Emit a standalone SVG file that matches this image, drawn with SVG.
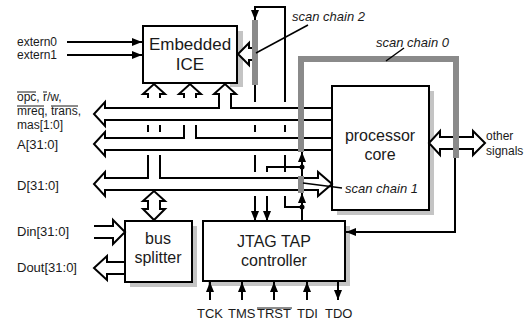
<svg xmlns="http://www.w3.org/2000/svg" width="526" height="325" viewBox="0 0 526 325">
<defs>
<style>
.box{fill:#fff;stroke:#000;stroke-width:2}
.sh{fill:#c4c4c4}
.t{font-family:"Liberation Sans",Arial,sans-serif;fill:#1a1a1a}
.big{font-size:16px;text-anchor:middle}
.sm{font-size:13px}
.xs{font-size:12px}
.it{font-style:italic}
.ln{fill:none;stroke:#000;stroke-width:2}
.bus{fill:none;stroke:#000;stroke-width:2}
.hol{fill:#fff;stroke:#000;stroke-width:2}
.sc{fill:none;stroke:#8a8a8a;stroke-width:6}
.scb{fill:#8a8a8a}
.ovl{stroke:#1a1a1a;stroke-width:1}
.thin{fill:none;stroke:#000;stroke-width:1.5}
</style>
<marker id="ah" viewBox="0 0 10 8" refX="10" refY="4" markerWidth="10" markerHeight="8" markerUnits="userSpaceOnUse" orient="auto">
<path d="M0,0 L10,4 L0,8 z" fill="#000"/>
</marker>
</defs>
<rect width="526" height="325" fill="#fff"/>

<g id="ice">
<rect class="sh" x="237" y="31" width="6" height="56"/>
<rect class="sh" x="230" y="83" width="13" height="4"/>
<rect class="box" x="143" y="26" width="94" height="57"/>
<text class="t big" style="font-size:17px" x="190" y="50">Embedded</text>
<text class="t big" style="font-size:17px" x="190" y="70">ICE</text>
</g>

<g id="core">
<rect class="sh" x="337" y="91" width="97" height="124"/>
<rect class="box" x="332" y="86" width="97" height="124"/>
<text class="t big" x="380" y="141">processor</text>
<text class="t big" x="380" y="160">core</text>
</g>

<g id="jtag">
<rect class="sh" x="208" y="226" width="142" height="60"/>
<rect class="box" x="203" y="221" width="142" height="60"/>
<text class="t big" x="274" y="247">JTAG TAP</text>
<text class="t big" x="274" y="266">controller</text>
</g>

<g id="splitter">
<rect class="sh" x="130" y="226" width="67" height="61"/>
<rect class="box" x="125" y="221" width="67" height="61"/>
<text class="t big" x="158" y="244">bus</text>
<text class="t big" x="158" y="263">splitter</text>
</g>

<g id="labels">
<text class="t xs" x="17" y="46">extern0</text>
<text class="t xs" x="17" y="59">extern1</text>
<text class="t xs" x="17" y="101">opc, r/w,</text>
<line class="ovl" x1="17" y1="92" x2="36" y2="92"/>
<line class="ovl" x1="43" y1="92" x2="47" y2="92"/>
<text class="t xs" x="17" y="115">mreq, trans,</text>
<line class="ovl" x1="17" y1="106" x2="44" y2="106"/>
<line class="ovl" x1="51" y1="106" x2="78" y2="106"/>
<text class="t xs" x="17" y="129">mas[1:0]</text>
<text class="t sm" x="17" y="149">A[31:0]</text>
<text class="t sm" x="17" y="190">D[31:0]</text>
<text class="t sm" x="17" y="236">Din[31:0]</text>
<text class="t sm" x="17" y="272">Dout[31:0]</text>
<text class="t xs" x="486" y="140">other</text>
<text class="t xs" x="486" y="155">signals</text>
<text class="t sm" x="197" y="318">TCK</text>
<text class="t sm" x="228" y="318">TMS</text>
<text class="t sm" x="257" y="318">TRST</text>
<line class="ovl" x1="257" y1="308" x2="292" y2="308"/>
<text class="t sm" x="297" y="318">TDI</text>
<text class="t sm" x="325" y="318">TDO</text>
<text class="t sm it" x="292" y="21">scan chain 2</text>
<text class="t sm it" x="376" y="47">scan chain 0</text>
<text class="t sm it" x="345" y="193">scan chain 1</text>
</g>

<g id="connectors">
<path class="bus" d="M332,120 H105 V126 L94,114 L105,102 V108 H219 V94 H214 L225,84 L236,94 H231 V108 H332"/>
<path class="bus" d="M332,150 H105 V156 L94,144 L105,132 V138 H184 V125 M196,125 V138 H332"/>
<path class="bus" d="M184,98 V94 H179 L190,84 L201,94 H196 V98"/>
<path class="bus" d="M148,155 V178 H105 V172 L94,184 L105,196 V190 H318 V196 L332,184 L318,172 V178 H160 V155"/>
<path class="bus" d="M148,98 V94 H143 L154,84 L165,94 H160 V98 M148,125 V132 M160,125 V132"/>
<path class="hol" d="M148,201 H143 L154,191 L165,201 H160 V209 H165 L154,220 L143,209 H148 Z"/>
<path class="bus" d="M94,226 H113 V220 L125,232 L113,244 V238 H94"/>
<path class="bus" d="M125,262 H107 V256 L94,268 L107,280 V274 H125"/>
<path class="hol" d="M429,143 L440,131 V137 H473 V131 L485,143 L473,155 V149 H440 V155 Z"/>
<path class="hol" d="M253,48 H249 V43 L238,54 L249,65 V60 H253"/>

<path class="sc" d="M301,152 V59 H456 V158"/>
<rect class="scb" x="252" y="20" width="6" height="65"/>
<rect class="scb" x="298" y="176" width="6" height="17"/>

<path class="ln" d="M67,42 H142" marker-end="url(#ah)"/>
<path class="ln" d="M67,55 H142" marker-end="url(#ah)"/>
<path class="ln" d="M285,102 V7 H255 V20" marker-end="url(#ah)"/>
<path class="ln" d="M255,85 V102 M255,125 V132 M255,155 V172"/>
<path class="ln" d="M255,196 V221" marker-end="url(#ah)"/>
<path class="ln" d="M285,125 V132 M285,155 V172 M285,196 V207 H302"/>
<path class="ln" d="M267,172 V167 H302"/>
<path class="ln" d="M267,196 V221" marker-end="url(#ah)"/>
<path class="ln" d="M302,221 V193" marker-end="url(#ah)"/>
<path class="ln" d="M302,176 V152" marker-end="url(#ah)"/>
<circle cx="302" cy="167" r="2.5" fill="#000"/>
<circle cx="302" cy="207" r="2.5" fill="#000"/>
<path class="ln" d="M455,158 V232 H346" marker-end="url(#ah)"/>
<path class="ln" d="M210,300 V282" marker-end="url(#ah)"/>
<path class="ln" d="M242,300 V282" marker-end="url(#ah)"/>
<path class="ln" d="M274,300 V282" marker-end="url(#ah)"/>
<path class="ln" d="M307,300 V282" marker-end="url(#ah)"/>
<path class="ln" d="M338,282 V300" marker-end="url(#ah)"/>
<path class="thin" d="M308,25 L256,53"/>
<path class="thin" d="M404,48 L386,61"/>
<path class="thin" d="M303,183 L342,188"/>
</g>
</svg>
